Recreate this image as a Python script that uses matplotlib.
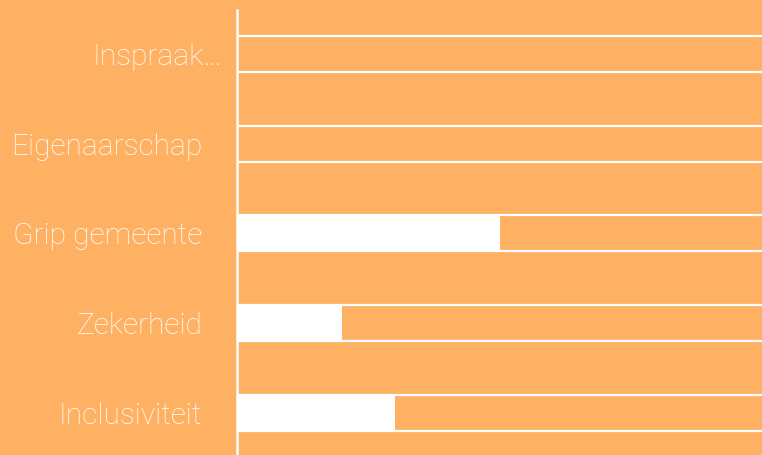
import numpy as np
import matplotlib
matplotlib.use("Agg")
from matplotlib import pyplot as plt
from matplotlib import transforms

categories = ["Inspraak…", "Eigenaarschap", "Grip gemeente", "Zekerheid", "Inclusiviteit"]
values = [0, 0, 50, 20, 30]
max_values = [120, 120, 120, 120, 120]

bg = "#FEB162"

plt.rcParams["font.family"] = ["Roboto", "DejaVu Sans"]

fig = plt.figure(figsize=(7.62, 4.55), dpi=100, facecolor=bg)
ax = fig.add_axes([237 / 762, 0, 1 - 237 / 762, 1 - 10 / 455])
ax.set_facecolor(bg)

y = np.arange(len(categories))
ax.barh(y, max_values, height=0.4, fill=False, edgecolor="white", linewidth=1.6)
ax.barh(y, values, height=0.4, color="white", linewidth=0)

ax.set_xlim(0, 100)
ax.set_ylim(len(categories) - 0.53, -0.49)
ax.set_yticks(y)
ax.set_yticklabels(categories, fontsize=21.5, color="white", fontweight="light")
ax.tick_params(axis="y", length=0, pad=25)
ax.set_xticks([])

# the truncated label sits a bit further right in the original
lbl = ax.get_yticklabels()[0]
lbl.set_transform(lbl.get_transform() + transforms.ScaledTranslation(14 / 72, 0, fig.dpi_scale_trans))

for s in ["top", "right", "bottom"]:
    ax.spines[s].set_visible(False)
ax.spines["left"].set_color("white")
ax.spines["left"].set_linewidth(1.8)

plt.savefig("out.png", dpi=100, facecolor=bg)
